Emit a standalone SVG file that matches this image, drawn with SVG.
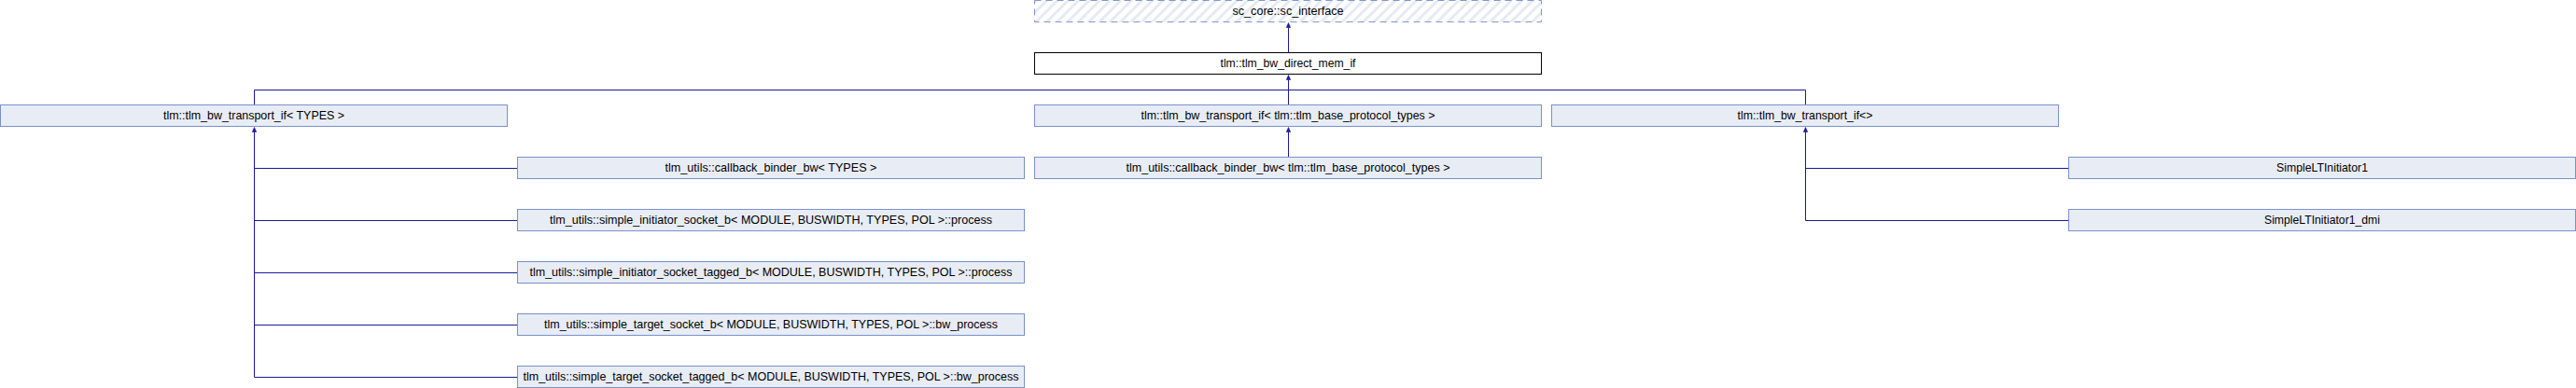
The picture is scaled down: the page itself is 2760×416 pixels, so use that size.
<svg xmlns="http://www.w3.org/2000/svg" width="2760" height="416" viewBox="0 0 2760 416">
<defs>
<style>
.node rect{fill:#E8ECF4;stroke:#7892C9;stroke-width:1}
.cur rect{fill:#FFFFFF;stroke:#000000;stroke-width:1}
.ext rect{fill:url(#hatch);stroke:#7F98CD;stroke-width:1;stroke-dasharray:7,5}
text{font-family:"Liberation Sans",Arial,Helvetica,sans-serif;font-size:13px;text-anchor:middle;fill:#000000}
.edge{fill:none;stroke:#1A1A96;stroke-width:1}
.arr{fill:#1A1A96;stroke:#1A1A96;stroke-width:0.6}
</style>
<pattern id="hatch" width="8" height="8" patternUnits="userSpaceOnUse" patternTransform="rotate(45)">
<rect width="8" height="8" fill="#FFFFFF"/>
<rect width="3" height="8" fill="#E6EAF3"/>
</pattern>
</defs>
<rect width="2760" height="416" fill="#FFFFFF"/>
<g id="connectors">
<path class="edge" d="M1380.5,56.5V29.5"/>
<polygon class="arr" points="1380.5,24.5 1378.3,29.5 1382.7,29.5"/>
<path class="edge" d="M1380.5,112.5V85.5"/>
<path class="edge" d="M272.5,112.5V96.5H1934.5V112.5"/>
<polygon class="arr" points="1380.5,80.5 1378.3,85.5 1382.7,85.5"/>
<path class="edge" d="M1380.5,168.5V141.5"/>
<polygon class="arr" points="1380.5,136.5 1378.3,141.5 1382.7,141.5"/>
<path class="edge" d="M554.5,404.5H272.5V141.5M554.5,180.5H272.5M554.5,236.5H272.5M554.5,292.5H272.5M554.5,348.5H272.5"/>
<polygon class="arr" points="272.5,136.5 270.3,141.5 274.7,141.5"/>
<path class="edge" d="M2216.5,236.5H1934.5V141.5M2216.5,180.5H1934.5"/>
<polygon class="arr" points="1934.5,136.5 1932.3,141.5 1936.7,141.5"/>
</g>
<g id="sc_interface" class="ext"><rect x="1108.5" y="0.5" width="543" height="23"/><text x="1380" y="16" textLength="119" lengthAdjust="spacingAndGlyphs">sc_core::sc_interface</text></g>
<g id="tlm_bw_direct_mem_if" class="cur"><rect x="1108.5" y="56.5" width="543" height="23"/><text x="1380" y="72" textLength="145" lengthAdjust="spacingAndGlyphs">tlm::tlm_bw_direct_mem_if</text></g>
<g id="tlm_bw_transport_if_TYPES" class="node"><rect x="0.5" y="112.5" width="543" height="23"/><text x="272" y="128" textLength="194" lengthAdjust="spacingAndGlyphs">tlm::tlm_bw_transport_if&lt; TYPES &gt;</text></g>
<g id="tlm_bw_transport_if_base" class="node"><rect x="1108.5" y="112.5" width="543" height="23"/><text x="1380" y="128" textLength="315" lengthAdjust="spacingAndGlyphs">tlm::tlm_bw_transport_if&lt; tlm::tlm_base_protocol_types &gt;</text></g>
<g id="tlm_bw_transport_if_empty" class="node"><rect x="1662.5" y="112.5" width="543" height="23"/><text x="1934" y="128" textLength="145" lengthAdjust="spacingAndGlyphs">tlm::tlm_bw_transport_if&lt;&gt;</text></g>
<g id="callback_binder_bw_TYPES" class="node"><rect x="554.5" y="168.5" width="543" height="23"/><text x="826" y="184" textLength="227" lengthAdjust="spacingAndGlyphs">tlm_utils::callback_binder_bw&lt; TYPES &gt;</text></g>
<g id="callback_binder_bw_base" class="node"><rect x="1108.5" y="168.5" width="543" height="23"/><text x="1380" y="184" textLength="347" lengthAdjust="spacingAndGlyphs">tlm_utils::callback_binder_bw&lt; tlm::tlm_base_protocol_types &gt;</text></g>
<g id="SimpleLTInitiator1" class="node"><rect x="2216.5" y="168.5" width="543" height="23"/><text x="2488" y="184" textLength="98" lengthAdjust="spacingAndGlyphs">SimpleLTInitiator1</text></g>
<g id="simple_initiator_socket_b_process" class="node"><rect x="554.5" y="224.5" width="543" height="23"/><text x="826" y="240" textLength="474" lengthAdjust="spacingAndGlyphs">tlm_utils::simple_initiator_socket_b&lt; MODULE, BUSWIDTH, TYPES, POL &gt;::process</text></g>
<g id="SimpleLTInitiator1_dmi" class="node"><rect x="2216.5" y="224.5" width="543" height="23"/><text x="2488" y="240" textLength="124" lengthAdjust="spacingAndGlyphs">SimpleLTInitiator1_dmi</text></g>
<g id="simple_initiator_socket_tagged_b_process" class="node"><rect x="554.5" y="280.5" width="543" height="23"/><text x="826" y="296" textLength="517" lengthAdjust="spacingAndGlyphs">tlm_utils::simple_initiator_socket_tagged_b&lt; MODULE, BUSWIDTH, TYPES, POL &gt;::process</text></g>
<g id="simple_target_socket_b_bw_process" class="node"><rect x="554.5" y="336.5" width="543" height="23"/><text x="826" y="352" textLength="486" lengthAdjust="spacingAndGlyphs">tlm_utils::simple_target_socket_b&lt; MODULE, BUSWIDTH, TYPES, POL &gt;::bw_process</text></g>
<g id="simple_target_socket_tagged_b_bw_process" class="node"><rect x="554.5" y="392.5" width="543" height="23"/><text x="826" y="408" textLength="531" lengthAdjust="spacingAndGlyphs">tlm_utils::simple_target_socket_tagged_b&lt; MODULE, BUSWIDTH, TYPES, POL &gt;::bw_process</text></g>
</svg>
